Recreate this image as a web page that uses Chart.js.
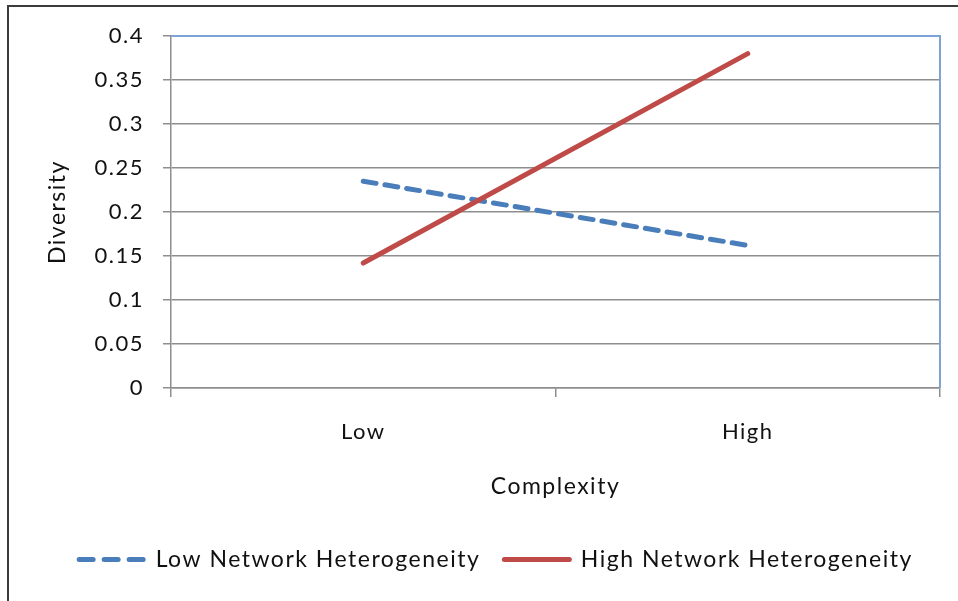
<!DOCTYPE html>
<html>
<head>
<meta charset="utf-8">
<script src="https://cdn.jsdelivr.net/npm/chart.js@4"></script>
<style>
  html, body { margin: 0; padding: 0; background: #ffffff; }
  #wrap { width: 958px; height: 601px; position: relative; }
</style>
</head>
<body>
<div id="wrap"><canvas id="c"></canvas></div>
<script>
// Complexity levels on the x axis
const categories = ['Low', 'High'];
// Diversity for each network-heterogeneity group
const lowHeterogeneity = [0.235, 0.162];
const highHeterogeneity = [0.142, 0.38];
// Y axis tick labels, one per 0.05 step
const yTickLabels = ['0', '0.05', '0.1', '0.15', '0.2', '0.25', '0.3', '0.35', '0.4'];

const FONT = 'Lato, "Liberation Sans", sans-serif';
const TEXT = '#111111';
const GRID = '#8e8e8e';

// Slightly open letter spacing for all chart text
const spacingPlugin = {
  id: 'spacing',
  beforeUpdate(chart) { chart.ctx.letterSpacing = '1.5px'; },
  beforeDraw(chart) { chart.ctx.letterSpacing = '1.5px'; }
};

// Outer frame plus the blue top/right edges of the plot area
const framePlugin = {
  id: 'frame',
  afterLayout(chart) {
    // nudge the legend row a little to the right
    const lg = chart.legend;
    if (lg) { lg.left += 21; lg.right += 21; }
  },
  beforeDraw(chart) {
    const ctx = chart.ctx;
    ctx.save();
    ctx.fillStyle = '#ffffff';
    ctx.fillRect(0, 0, chart.width, chart.height);
    ctx.strokeStyle = '#3c3c3c';
    ctx.lineWidth = 2;
    ctx.beginPath();
    ctx.moveTo(8, chart.height);
    ctx.lineTo(8, 6);
    ctx.lineTo(chart.width, 6);
    ctx.stroke();
    ctx.restore();
  },
  beforeDatasetsDraw(chart) {
    const { ctx, chartArea: a } = chart;
    ctx.save();
    ctx.strokeStyle = '#7ea3d6';
    ctx.lineWidth = 2;
    ctx.beginPath();
    ctx.moveTo(a.left, a.top);
    ctx.lineTo(a.right, a.top);
    ctx.lineTo(a.right, a.bottom);
    ctx.stroke();
    ctx.restore();
  }
};

new Chart(document.getElementById('c'), {
  type: 'line',
  data: {
    labels: categories,
    datasets: [
      {
        label: 'Low Network Heterogeneity',
        data: lowHeterogeneity,
        borderColor: '#4a7ebb',
        backgroundColor: '#4a7ebb',
        borderWidth: 5,
        borderDash: [13, 9],
        borderCapStyle: 'round',
        pointRadius: 0,
        fill: false,
        order: 1
      },
      {
        label: 'High Network Heterogeneity',
        data: highHeterogeneity,
        borderColor: '#be4b48',
        backgroundColor: '#be4b48',
        borderWidth: 5,
        borderCapStyle: 'round',
        pointRadius: 0,
        fill: false,
        order: 0
      }
    ]
  },
  options: {
    responsive: true,
    maintainAspectRatio: false,
    animation: false,
    devicePixelRatio: 1,
    layout: { padding: { top: 36, left: 10, right: 18, bottom: 20 } },
    plugins: {
      tooltip: { enabled: false },
      legend: {
        position: 'bottom',
        labels: {
          usePointStyle: true,
          pointStyle: 'line',
          pointStyleWidth: 65,
          boxHeight: 10,
          padding: 24,
          color: TEXT,
          font: { family: FONT, size: 23 },
          sort: (a, b) => a.datasetIndex - b.datasetIndex,
          generateLabels(chart) {
            const items = Chart.defaults.plugins.legend.labels.generateLabels(chart);
            items.forEach((item) => {
              const ds = chart.data.datasets[item.datasetIndex];
              item.lineDash = ds.borderDash ? [14, 11] : [];
              item.lineCap = 'round';
              item.lineWidth = 5;
              item.strokeStyle = ds.borderColor;
            });
            return items;
          }
        }
      }
    },
    scales: {
      x: {
        offset: true,
        grid: { offset: true, drawOnChartArea: false, drawTicks: true, tickLength: 9, color: GRID, lineWidth: 1.5 },
        border: { color: GRID, width: 1.5 },
        ticks: { padding: 22, color: TEXT, font: { family: FONT, size: 22 }, maxRotation: 0 },
        title: { display: true, text: 'Complexity', color: TEXT, font: { family: FONT, size: 23 }, padding: { top: 0, bottom: 24 } },
        afterFit(scale) { scale.height = 136; }
      },
      y: {
        min: 0,
        max: 0.4,
        grid: { color: GRID, lineWidth: 1.5, drawTicks: true, tickLength: 8 },
        border: { color: GRID, width: 1.5 },
        ticks: {
          stepSize: 0.05,
          padding: 19,
          color: TEXT,
          font: { family: FONT, size: 22 },
          callback: (v) => yTickLabels[Math.round(v / 0.05)]
        },
        title: { display: true, text: 'Diversity', color: TEXT, font: { family: FONT, size: 23 }, padding: { top: 34, bottom: 0 } },
        afterFit(scale) { scale.width = 161; }
      }
    }
  },
  plugins: [spacingPlugin, framePlugin]
});
</script>
</body>
</html>
